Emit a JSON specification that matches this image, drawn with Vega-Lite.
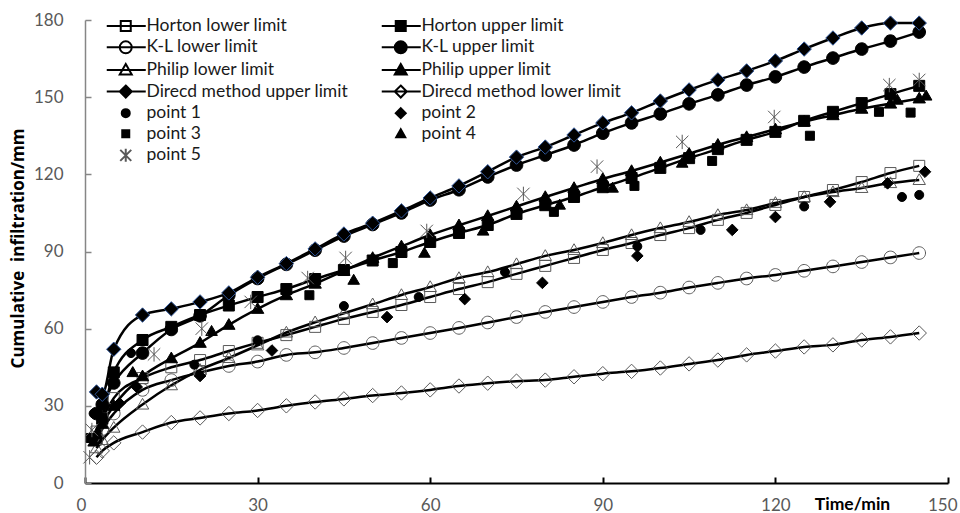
{
  "$schema": "https://vega.github.io/schema/vega-lite/v6.json",
  "width": 863,
  "height": 463,
  "autosize": {"type": "none"},
  "padding": {"left": 85, "top": 20, "right": 12, "bottom": 30},
  "config": {"view": {"stroke": null}, "font": "Lato"},
  "data": {"values": [
    {"s":"Horton lower limit","t":2,"v":20},{"s":"Horton lower limit","t":3,"v":25},{"s":"Horton lower limit","t":5,"v":33},{"s":"Horton lower limit","t":10,"v":40.8},{"s":"Horton lower limit","t":15,"v":45},{"s":"Horton lower limit","t":20,"v":47.8},{"s":"Horton lower limit","t":25,"v":51.3},{"s":"Horton lower limit","t":30,"v":54.5},{"s":"Horton lower limit","t":35,"v":57.5},{"s":"Horton lower limit","t":40,"v":60.7},{"s":"Horton lower limit","t":45,"v":63.8},{"s":"Horton lower limit","t":50,"v":66.5},{"s":"Horton lower limit","t":55,"v":69.2},{"s":"Horton lower limit","t":60,"v":72.3},{"s":"Horton lower limit","t":65,"v":75.4},{"s":"Horton lower limit","t":70,"v":78.1},{"s":"Horton lower limit","t":75,"v":81.3},{"s":"Horton lower limit","t":80,"v":84.4},{"s":"Horton lower limit","t":85,"v":87.5},{"s":"Horton lower limit","t":90,"v":90.6},{"s":"Horton lower limit","t":95,"v":93.3},{"s":"Horton lower limit","t":100,"v":96.4},{"s":"Horton lower limit","t":105,"v":99.1},{"s":"Horton lower limit","t":110,"v":102.3},{"s":"Horton lower limit","t":115,"v":105},{"s":"Horton lower limit","t":120,"v":108.1},{"s":"Horton lower limit","t":125,"v":111.2},{"s":"Horton lower limit","t":130,"v":113.9},{"s":"Horton lower limit","t":135,"v":117},{"s":"Horton lower limit","t":140,"v":120.5},{"s":"Horton lower limit","t":145,"v":123.3},
    {"s":"Horton upper limit","t":2,"v":17},{"s":"Horton upper limit","t":3,"v":25},{"s":"Horton upper limit","t":5,"v":43},{"s":"Horton upper limit","t":10,"v":55.6},{"s":"Horton upper limit","t":15,"v":60.7},{"s":"Horton upper limit","t":20,"v":65.3},{"s":"Horton upper limit","t":25,"v":69},{"s":"Horton upper limit","t":30,"v":72.3},{"s":"Horton upper limit","t":35,"v":75.4},{"s":"Horton upper limit","t":40,"v":79.3},{"s":"Horton upper limit","t":45,"v":82.8},{"s":"Horton upper limit","t":50,"v":86.5},{"s":"Horton upper limit","t":55,"v":89.8},{"s":"Horton upper limit","t":60,"v":93.7},{"s":"Horton upper limit","t":65,"v":97.2},{"s":"Horton upper limit","t":70,"v":100.3},{"s":"Horton upper limit","t":75,"v":104.6},{"s":"Horton upper limit","t":80,"v":108},{"s":"Horton upper limit","t":85,"v":111.2},{"s":"Horton upper limit","t":90,"v":115},{"s":"Horton upper limit","t":95,"v":118.6},{"s":"Horton upper limit","t":100,"v":122.5},{"s":"Horton upper limit","t":105,"v":126.3},{"s":"Horton upper limit","t":110,"v":129.8},{"s":"Horton upper limit","t":115,"v":133.4},{"s":"Horton upper limit","t":120,"v":136.5},{"s":"Horton upper limit","t":125,"v":140.8},{"s":"Horton upper limit","t":130,"v":144.3},{"s":"Horton upper limit","t":135,"v":147.7},{"s":"Horton upper limit","t":140,"v":151.2},{"s":"Horton upper limit","t":145,"v":154.4},
    {"s":"K-L lower limit","t":2,"v":17},{"s":"K-L lower limit","t":3,"v":21},{"s":"K-L lower limit","t":5,"v":27},{"s":"K-L lower limit","t":10,"v":36.2},{"s":"K-L lower limit","t":15,"v":40},{"s":"K-L lower limit","t":20,"v":43},{"s":"K-L lower limit","t":25,"v":45.5},{"s":"K-L lower limit","t":30,"v":47.2},{"s":"K-L lower limit","t":35,"v":49.8},{"s":"K-L lower limit","t":40,"v":50.8},{"s":"K-L lower limit","t":45,"v":52.5},{"s":"K-L lower limit","t":50,"v":54.4},{"s":"K-L lower limit","t":55,"v":56.4},{"s":"K-L lower limit","t":60,"v":58.3},{"s":"K-L lower limit","t":65,"v":60.3},{"s":"K-L lower limit","t":70,"v":62.4},{"s":"K-L lower limit","t":75,"v":64.5},{"s":"K-L lower limit","t":80,"v":66.5},{"s":"K-L lower limit","t":85,"v":68.4},{"s":"K-L lower limit","t":90,"v":70.4},{"s":"K-L lower limit","t":95,"v":72.3},{"s":"K-L lower limit","t":100,"v":74},{"s":"K-L lower limit","t":105,"v":76},{"s":"K-L lower limit","t":110,"v":77.8},{"s":"K-L lower limit","t":115,"v":79.5},{"s":"K-L lower limit","t":120,"v":80.9},{"s":"K-L lower limit","t":125,"v":82.5},{"s":"K-L lower limit","t":130,"v":84.2},{"s":"K-L lower limit","t":135,"v":85.9},{"s":"K-L lower limit","t":140,"v":87.7},{"s":"K-L lower limit","t":145,"v":89.4},
    {"s":"K-L upper limit","t":2,"v":27},{"s":"K-L upper limit","t":3,"v":30.5},{"s":"K-L upper limit","t":5,"v":38.9},{"s":"K-L upper limit","t":10,"v":50.5},{"s":"K-L upper limit","t":15,"v":59.7},{"s":"K-L upper limit","t":20,"v":65},{"s":"K-L upper limit","t":25,"v":73},{"s":"K-L upper limit","t":30,"v":79.5},{"s":"K-L upper limit","t":35,"v":85},{"s":"K-L upper limit","t":40,"v":90.5},{"s":"K-L upper limit","t":45,"v":96},{"s":"K-L upper limit","t":50,"v":100.5},{"s":"K-L upper limit","t":55,"v":105},{"s":"K-L upper limit","t":60,"v":110},{"s":"K-L upper limit","t":65,"v":114},{"s":"K-L upper limit","t":70,"v":119},{"s":"K-L upper limit","t":75,"v":123.6},{"s":"K-L upper limit","t":80,"v":127.5},{"s":"K-L upper limit","t":85,"v":131.4},{"s":"K-L upper limit","t":90,"v":136},{"s":"K-L upper limit","t":95,"v":140},{"s":"K-L upper limit","t":100,"v":143.5},{"s":"K-L upper limit","t":105,"v":147.4},{"s":"K-L upper limit","t":110,"v":150.9},{"s":"K-L upper limit","t":115,"v":154.7},{"s":"K-L upper limit","t":120,"v":157.9},{"s":"K-L upper limit","t":125,"v":161.7},{"s":"K-L upper limit","t":130,"v":165.2},{"s":"K-L upper limit","t":135,"v":168.7},{"s":"K-L upper limit","t":140,"v":171.8},{"s":"K-L upper limit","t":145,"v":175.3},
    {"s":"Philip lower limit","t":2,"v":13.5},{"s":"Philip lower limit","t":3,"v":16.7},{"s":"Philip lower limit","t":5,"v":21.5},{"s":"Philip lower limit","t":10,"v":30.5},{"s":"Philip lower limit","t":15,"v":38},{"s":"Philip lower limit","t":20,"v":44},{"s":"Philip lower limit","t":25,"v":48.6},{"s":"Philip lower limit","t":30,"v":53.5},{"s":"Philip lower limit","t":35,"v":58.5},{"s":"Philip lower limit","t":40,"v":62.5},{"s":"Philip lower limit","t":45,"v":66},{"s":"Philip lower limit","t":50,"v":69.5},{"s":"Philip lower limit","t":55,"v":73.1},{"s":"Philip lower limit","t":60,"v":76.2},{"s":"Philip lower limit","t":65,"v":79.7},{"s":"Philip lower limit","t":70,"v":82},{"s":"Philip lower limit","t":75,"v":85.1},{"s":"Philip lower limit","t":80,"v":88.3},{"s":"Philip lower limit","t":85,"v":90.6},{"s":"Philip lower limit","t":90,"v":93.3},{"s":"Philip lower limit","t":95,"v":96.4},{"s":"Philip lower limit","t":100,"v":99.1},{"s":"Philip lower limit","t":105,"v":101.5},{"s":"Philip lower limit","t":110,"v":104.2},{"s":"Philip lower limit","t":115,"v":106.1},{"s":"Philip lower limit","t":120,"v":108.9},{"s":"Philip lower limit","t":125,"v":111.2},{"s":"Philip lower limit","t":130,"v":113.1},{"s":"Philip lower limit","t":135,"v":114.7},{"s":"Philip lower limit","t":140,"v":116.6},{"s":"Philip lower limit","t":145,"v":117.8},
    {"s":"Philip upper limit","t":2,"v":19},{"s":"Philip upper limit","t":3,"v":23},{"s":"Philip upper limit","t":5,"v":30},{"s":"Philip upper limit","t":10,"v":41.5},{"s":"Philip upper limit","t":15,"v":48.5},{"s":"Philip upper limit","t":20,"v":54.5},{"s":"Philip upper limit","t":25,"v":61.5},{"s":"Philip upper limit","t":30,"v":67.7},{"s":"Philip upper limit","t":35,"v":73},{"s":"Philip upper limit","t":40,"v":77.5},{"s":"Philip upper limit","t":45,"v":82.5},{"s":"Philip upper limit","t":50,"v":87.5},{"s":"Philip upper limit","t":55,"v":92},{"s":"Philip upper limit","t":60,"v":96.4},{"s":"Philip upper limit","t":65,"v":100.2},{"s":"Philip upper limit","t":70,"v":103.8},{"s":"Philip upper limit","t":75,"v":107.5},{"s":"Philip upper limit","t":80,"v":111.2},{"s":"Philip upper limit","t":85,"v":114.7},{"s":"Philip upper limit","t":90,"v":118.2},{"s":"Philip upper limit","t":95,"v":121.3},{"s":"Philip upper limit","t":100,"v":124.6},{"s":"Philip upper limit","t":105,"v":128},{"s":"Philip upper limit","t":110,"v":131.5},{"s":"Philip upper limit","t":115,"v":134.5},{"s":"Philip upper limit","t":120,"v":137.5},{"s":"Philip upper limit","t":125,"v":140.5},{"s":"Philip upper limit","t":130,"v":143},{"s":"Philip upper limit","t":135,"v":145.5},{"s":"Philip upper limit","t":140,"v":147.5},{"s":"Philip upper limit","t":145,"v":149.5},
    {"s":"Direcd method upper limit","t":2,"v":35.4},{"s":"Direcd method upper limit","t":3,"v":34.5},{"s":"Direcd method upper limit","t":5,"v":52},{"s":"Direcd method upper limit","t":10,"v":65.3},{"s":"Direcd method upper limit","t":15,"v":67.7},{"s":"Direcd method upper limit","t":20,"v":70.4},{"s":"Direcd method upper limit","t":25,"v":73.9},{"s":"Direcd method upper limit","t":30,"v":80},{"s":"Direcd method upper limit","t":35,"v":85.3},{"s":"Direcd method upper limit","t":40,"v":91},{"s":"Direcd method upper limit","t":45,"v":96.8},{"s":"Direcd method upper limit","t":50,"v":101},{"s":"Direcd method upper limit","t":55,"v":105.8},{"s":"Direcd method upper limit","t":60,"v":110.8},{"s":"Direcd method upper limit","t":65,"v":115.5},{"s":"Direcd method upper limit","t":70,"v":121},{"s":"Direcd method upper limit","t":75,"v":126.7},{"s":"Direcd method upper limit","t":80,"v":130.6},{"s":"Direcd method upper limit","t":85,"v":135.3},{"s":"Direcd method upper limit","t":90,"v":140},{"s":"Direcd method upper limit","t":95,"v":143.9},{"s":"Direcd method upper limit","t":100,"v":148.5},{"s":"Direcd method upper limit","t":105,"v":152.8},{"s":"Direcd method upper limit","t":110,"v":156.7},{"s":"Direcd method upper limit","t":115,"v":160.2},{"s":"Direcd method upper limit","t":120,"v":164.1},{"s":"Direcd method upper limit","t":125,"v":168.7},{"s":"Direcd method upper limit","t":130,"v":173},{"s":"Direcd method upper limit","t":135,"v":176.9},{"s":"Direcd method upper limit","t":140,"v":178.8},{"s":"Direcd method upper limit","t":145,"v":178.8},
    {"s":"Direcd method lower limit","t":2,"v":10},{"s":"Direcd method lower limit","t":3,"v":12.5},{"s":"Direcd method lower limit","t":5,"v":15.6},{"s":"Direcd method lower limit","t":10,"v":19.8},{"s":"Direcd method lower limit","t":15,"v":23.5},{"s":"Direcd method lower limit","t":20,"v":25.3},{"s":"Direcd method lower limit","t":25,"v":27},{"s":"Direcd method lower limit","t":30,"v":28.2},{"s":"Direcd method lower limit","t":35,"v":30},{"s":"Direcd method lower limit","t":40,"v":31.5},{"s":"Direcd method lower limit","t":45,"v":32.7},{"s":"Direcd method lower limit","t":50,"v":34},{"s":"Direcd method lower limit","t":55,"v":35},{"s":"Direcd method lower limit","t":60,"v":36.2},{"s":"Direcd method lower limit","t":65,"v":37.7},{"s":"Direcd method lower limit","t":70,"v":38.8},{"s":"Direcd method lower limit","t":75,"v":39.6},{"s":"Direcd method lower limit","t":80,"v":40},{"s":"Direcd method lower limit","t":85,"v":41.3},{"s":"Direcd method lower limit","t":90,"v":42.5},{"s":"Direcd method lower limit","t":95,"v":43.4},{"s":"Direcd method lower limit","t":100,"v":44.7},{"s":"Direcd method lower limit","t":105,"v":46.3},{"s":"Direcd method lower limit","t":110,"v":47.8},{"s":"Direcd method lower limit","t":115,"v":49.8},{"s":"Direcd method lower limit","t":120,"v":51.3},{"s":"Direcd method lower limit","t":125,"v":52.9},{"s":"Direcd method lower limit","t":130,"v":53.7},{"s":"Direcd method lower limit","t":135,"v":55.6},{"s":"Direcd method lower limit","t":140,"v":56.8},{"s":"Direcd method lower limit","t":145,"v":58.3},
    {"s":"point 1","t":1.5,"v":27},{"s":"point 1","t":8,"v":50.5},{"s":"point 1","t":19,"v":46},{"s":"point 1","t":30,"v":55.5},{"s":"point 1","t":45,"v":68.8},{"s":"point 1","t":58,"v":72.3},{"s":"point 1","t":73,"v":82},{"s":"point 1","t":96,"v":92},{"s":"point 1","t":107,"v":98.4},{"s":"point 1","t":125,"v":107.5},{"s":"point 1","t":142,"v":111.2},{"s":"point 1","t":145,"v":112},
    {"s":"point 2","t":6,"v":31},{"s":"point 2","t":9,"v":37.3},{"s":"point 2","t":20,"v":41.6},{"s":"point 2","t":32.5,"v":51.5},{"s":"point 2","t":52.5,"v":64.5},{"s":"point 2","t":66,"v":71.5},{"s":"point 2","t":79.5,"v":77.8},{"s":"point 2","t":96,"v":88.3},{"s":"point 2","t":112.5,"v":98.4},{"s":"point 2","t":120,"v":103.4},{"s":"point 2","t":129.5,"v":109.3},{"s":"point 2","t":139.5,"v":116.5},{"s":"point 2","t":146,"v":121},
    {"s":"point 3","t":1,"v":17.5},{"s":"point 3","t":39,"v":73},{"s":"point 3","t":53.5,"v":85.5},{"s":"point 3","t":81.5,"v":105.4},{"s":"point 3","t":95.5,"v":115.5},{"s":"point 3","t":109,"v":125.2},{"s":"point 3","t":126,"v":135},{"s":"point 3","t":138,"v":144.3},{"s":"point 3","t":143.5,"v":144},
    {"s":"point 4","t":1.5,"v":16},{"s":"point 4","t":8.3,"v":43},{"s":"point 4","t":22,"v":59},{"s":"point 4","t":46.7,"v":78.9},{"s":"point 4","t":59,"v":89.4},{"s":"point 4","t":69.2,"v":98},{"s":"point 4","t":82.5,"v":108.1},{"s":"point 4","t":91.7,"v":114.7},{"s":"point 4","t":103.8,"v":124.4},{"s":"point 4","t":141.2,"v":148.9},{"s":"point 4","t":146.2,"v":150.5},
    {"s":"point 5","t":0.8,"v":10},{"s":"point 5","t":1.2,"v":20.6},{"s":"point 5","t":12,"v":50},{"s":"point 5","t":20.3,"v":60},{"s":"point 5","t":28.8,"v":70.4},{"s":"point 5","t":38.7,"v":79.7},{"s":"point 5","t":45.3,"v":87.5},{"s":"point 5","t":59.4,"v":98},{"s":"point 5","t":76.2,"v":112.4},{"s":"point 5","t":89,"v":123},{"s":"point 5","t":103.8,"v":132.6},{"s":"point 5","t":119.8,"v":142.3},{"s":"point 5","t":139.8,"v":154.7},{"s":"point 5","t":145,"v":156.7}
  ]},
  "encoding": {
    "x": {"field": "t", "type": "quantitative",
      "scale": {"domain": [0, 150], "nice": false, "zero": false},
      "axis": {"values": [0, 30, 60, 90, 120, 150], "grid": false, "title": "Time/min",
        "domainColor": "#000000", "domainWidth": 2, "tickColor": "#000000", "tickWidth": 2, "tickSize": -6,
        "labelPadding": 20, "labelFont": "Lato", "labelFontSize": 17, "labelColor": "#595959",
        "labelFlush": true, "labelFlushOffset": 9,
        "titleFont": "Lato", "titleFontSize": 17.5, "titleFontWeight": "bold", "titleColor": "#000000",
        "titleX": 767, "titleY": 21, "titleBaseline": "middle", "titleAlign": "center"}},
    "y": {"field": "v", "type": "quantitative",
      "scale": {"domain": [0, 180], "nice": false},
      "axis": {"values": [0, 30, 60, 90, 120, 150, 180], "grid": false, "title": "Cumulative\u00a0\u00a0infiltration/mm",
        "domainColor": "#868686", "domainWidth": 1.5, "tickColor": "#868686", "tickWidth": 1.5, "tickSize": -6,
        "labelPadding": 28, "labelFont": "Lato", "labelFontSize": 17, "labelColor": "#595959",
        "titleFont": "Open Sans", "titleFontSize": 17, "titleFontWeight": "bold", "titleColor": "#000000",
        "titleX": -67, "titleY": 228, "titleBaseline": "middle", "titleAlign": "center", "titleAngle": -90}}
  },
  "layer": [
    {
      "transform": [{"filter": {"field": "s", "oneOf": ["Horton lower limit","Horton upper limit","K-L lower limit","K-L upper limit","Philip lower limit","Philip upper limit","Direcd method upper limit","Direcd method lower limit"]}}],
      "mark": {"type": "line", "color": "#000000", "strokeWidth": 2.5, "interpolate": "monotone"},
      "encoding": {"detail": {"field": "s", "type": "nominal"}}
    },
    {
      "mark": {"type": "point", "filled": true, "strokeWidth": 1, "opacity": 1, "size": 400},
      "encoding": {
        "shape": {"field": "s", "type": "nominal", "legend": null,
          "scale": {
            "domain": ["Horton lower limit","K-L lower limit","Philip lower limit","Direcd method upper limit","point 1","point 3","point 5","Horton upper limit","K-L upper limit","Philip upper limit","Direcd method lower limit","point 2","point 4"],
            "range": [
              "M-0.55,-0.55H0.55V0.55H-0.55Z",
              "M0.63,0A0.63,0.63 0 1,1 -0.63,0A0.63,0.63 0 1,1 0.63,0Z",
              "M0,-0.62L0.62,0.45H-0.62Z",
              "M0,-0.72L0.72,0L0,0.72L-0.72,0Z",
              "M0.45,0A0.45,0.45 0 1,1 -0.45,0A0.45,0.45 0 1,1 0.45,0Z",
              "M-0.45,-0.45H0.45V0.45H-0.45Z",
              "M0,-0.72V0.72M-0.62,-0.62L0.62,0.62M-0.62,0.62L0.62,-0.62",
              "M-0.55,-0.55H0.55V0.55H-0.55Z",
              "M0.63,0A0.63,0.63 0 1,1 -0.63,0A0.63,0.63 0 1,1 0.63,0Z",
              "M0,-0.62L0.62,0.45H-0.62Z",
              "M0,-0.72L0.72,0L0,0.72L-0.72,0Z",
              "M0,-0.58L0.58,0L0,0.58L-0.58,0Z",
              "M0,-0.58L0.58,0.42H-0.58Z"
            ]}},
        "fill": {"field": "s", "type": "nominal", "legend": null,
          "scale": {
            "domain": ["Horton lower limit","K-L lower limit","Philip lower limit","Direcd method upper limit","point 1","point 3","point 5","Horton upper limit","K-L upper limit","Philip upper limit","Direcd method lower limit","point 2","point 4"],
            "range": ["transparent","transparent","transparent","#000000","#000000","#000000","transparent","#000000","#000000","#000000","transparent","#000000","#000000"]}},
        "stroke": {"field": "s", "type": "nominal", "legend": null,
          "scale": {
            "domain": ["Horton lower limit","K-L lower limit","Philip lower limit","Direcd method upper limit","point 1","point 3","point 5","Horton upper limit","K-L upper limit","Philip upper limit","Direcd method lower limit","point 2","point 4"],
            "range": ["#595959","#595959","#595959","#2F5597","#000000","#000000","#595959","#000000","#000000","#000000","#595959","#000000","#000000"]}}
      }
    },
    {
      "transform": [{"filter": "datum.t < 0"}],
      "mark": {"type": "point", "filled": true, "strokeWidth": 2, "opacity": 1, "size": 100},
      "encoding": {
        "shape": {"field": "s", "type": "nominal",
          "scale": {
            "domain": ["Horton lower limit","K-L lower limit","Philip lower limit","Direcd method upper limit","point 1","point 3","point 5","Horton upper limit","K-L upper limit","Philip upper limit","Direcd method lower limit","point 2","point 4"],
            "range": [
              "M-1,0H6.8M1.8,-1H3.8V1H1.8Z",
              "M-1,0H6.8M4,0A1.2,1.2 0 1,1 1.6,0A1.2,1.2 0 1,1 4,0Z",
              "M-1,0H6.8M2.8,-1.2L4,0.9H1.6Z",
              "M-1,0H6.8M2.8,-1.2L4,0L2.8,1.2L1.6,0Z",
              "M3.6,0A0.8,0.8 0 1,1 2,0A0.8,0.8 0 1,1 3.6,0Z",
              "M2.1,-0.7H3.5V0.7H2.1Z",
              "M2.8,-1.3V1.3M1.7,-1.1L3.9,1.1M1.7,1.1L3.9,-1.1",
              "M-1,0H6.8M1.8,-1H3.8V1H1.8Z",
              "M-1,0H6.8M4,0A1.2,1.2 0 1,1 1.6,0A1.2,1.2 0 1,1 4,0Z",
              "M-1,0H6.8M2.8,-1.2L4,0.9H1.6Z",
              "M-1,0H6.8M2.8,-1.2L4,0L2.8,1.2L1.6,0Z",
              "M2.8,-1L3.8,0L2.8,1L1.8,0Z",
              "M2.8,-0.9L3.7,0.7H1.9Z"
            ]},
          "legend": {
            "title": null, "orient": "none", "legendX": 18, "legendY": -3, "columns": 2,
            "columnPadding": 28, "rowPadding": 1.6, "padding": 0, "symbolSize": 100, "labelOffset": 26,
            "labelFont": "Lato", "labelFontSize": 17.5, "labelColor": "#1a1a1a", "labelLimit": 400,
            "symbolStrokeWidth": 2
          }},
        "fill": {"field": "s", "type": "nominal", "legend": null,
          "scale": {
            "domain": ["Horton lower limit","K-L lower limit","Philip lower limit","Direcd method upper limit","point 1","point 3","point 5","Horton upper limit","K-L upper limit","Philip upper limit","Direcd method lower limit","point 2","point 4"],
            "range": ["transparent","transparent","transparent","#000000","#000000","#000000","transparent","#000000","#000000","#000000","transparent","#000000","#000000"]}},
        "stroke": {"field": "s", "type": "nominal", "legend": null,
          "scale": {
            "domain": ["Horton lower limit","K-L lower limit","Philip lower limit","Direcd method upper limit","point 1","point 3","point 5","Horton upper limit","K-L upper limit","Philip upper limit","Direcd method lower limit","point 2","point 4"],
            "range": ["#000000","#000000","#000000","#000000","#000000","#000000","#595959","#000000","#000000","#000000","#000000","#000000","#000000"]}}
      }
    }
  ],
  "resolve": {"scale": {"shape": "independent", "fill": "independent", "stroke": "independent"}}
}
